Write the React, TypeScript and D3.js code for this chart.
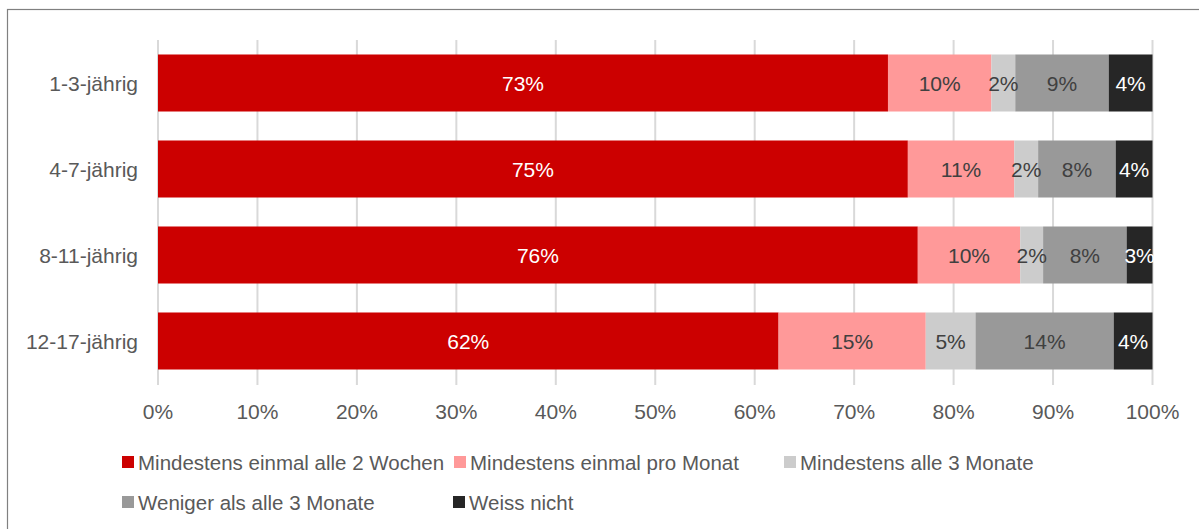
import * as d3 from 'd3';

// age groups, top to bottom
const categories = ['1-3-jährig', '4-7-jährig', '8-11-jährig', '12-17-jährig'];

const seriesNames = [
  'Mindestens einmal alle 2 Wochen',
  'Mindestens einmal pro Monat',
  'Mindestens alle 3 Monate',
  'Weniger als alle 3 Monate',
  'Weiss nicht',
];

// shares in percent, one array per series (same order as categories)
const alle2Wochen = [73.4, 75.4, 76.4, 62.4];
const proMonat = [10.4, 10.7, 10.3, 14.8];
const alle3Monate = [2.4, 2.4, 2.3, 5.0];
const weniger = [9.4, 7.8, 8.4, 13.9];
const weissNicht = [4.4, 3.7, 2.6, 3.9];

const xTicks = [0, 10, 20, 30, 40, 50, 60, 70, 80, 90, 100];

const colors = ['#cc0000', '#ff9999', '#cccccc', '#999999', '#262626'];
const labelColors = ['#ffffff', '#404040', '#404040', '#404040', '#ffffff'];

const W = 1199;
const H = 529;
const font = 'Arial, "Liberation Sans", sans-serif';

export default function App() {
  const seriesValues = [alle2Wochen, proMonat, alle3Monate, weniger, weissNicht];
  const rows = categories.map((c, i) => {
    const r: Record<string, number | string> = { cat: c };
    seriesNames.forEach((s, j) => (r[s] = seriesValues[j][i]));
    return r;
  });
  const stacked = d3.stack<Record<string, number | string>>().keys(seriesNames)(rows as any);

  const x = d3.scaleLinear().domain([0, 100]).range([158, 1152.5]);
  const y = d3.scaleBand<string>()
    .domain(categories)
    .range([40, 384])
    .paddingInner(0.337)
    .paddingOuter(0.1685);

  // legend layout: two rows
  const legend = [
    { x: 122, y: 462 },
    { x: 454, y: 462 },
    { x: 784, y: 462 },
    { x: 122, y: 502 },
    { x: 453, y: 502 },
  ];

  return (
    <svg width={W} height={H} style={{ position: 'absolute', left: 0, top: 0, background: '#fff' }}
      fontFamily={font}>
      {/* chart frame, cut off on the right and bottom */}
      <rect x={7.5} y={9.5} width={1220} height={560} fill="#fff" stroke="#808080" strokeWidth={1.2} />

      {/* gridlines + ticks */}
      {xTicks.map(t => (
        <line key={t} x1={x(t)} x2={x(t)} y1={40} y2={385} stroke="#d9d9d9" strokeWidth={2} />
      ))}

      {/* bars */}
      {stacked.map((s, j) => (
        <g key={s.key}>
          {s.map((d, i) => (
            <rect key={i} x={x(d[0])} y={y(categories[i])} width={x(d[1]) - x(d[0])}
              height={y.bandwidth()} fill={colors[j]} />
          ))}
        </g>
      ))}

      {/* value labels */}
      {stacked.map((s, j) => (
        <g key={s.key + 'l'}>
          {s.map((d, i) => (
            <text key={i} x={(x(d[0]) + x(d[1])) / 2} y={(y(categories[i]) as number) + y.bandwidth() / 2}
              textAnchor="middle" dominantBaseline="central" fontSize={21} fill={labelColors[j]}>
              {Math.round(d[1] - d[0])}%
            </text>
          ))}
        </g>
      ))}

      {/* category labels */}
      {categories.map(c => (
        <text key={c} x={138} y={(y(c) as number) + y.bandwidth() / 2} textAnchor="end"
          dominantBaseline="central" fontSize={21} fill="#595959">{c}</text>
      ))}

      {/* x axis labels */}
      {xTicks.map(t => (
        <text key={t} x={x(t)} y={411} textAnchor="middle" dominantBaseline="central"
          fontSize={21} fill="#595959">{t}%</text>
      ))}

      {/* legend */}
      {seriesNames.map((s, j) => (
        <g key={s} transform={`translate(${legend[j].x},${legend[j].y})`}>
          <rect x={0} y={-6} width={12} height={12} fill={colors[j]} />
          <text x={16} y={0} dominantBaseline="central" fontSize={20.5} fill="#595959">{s}</text>
        </g>
      ))}
    </svg>
  );
}
